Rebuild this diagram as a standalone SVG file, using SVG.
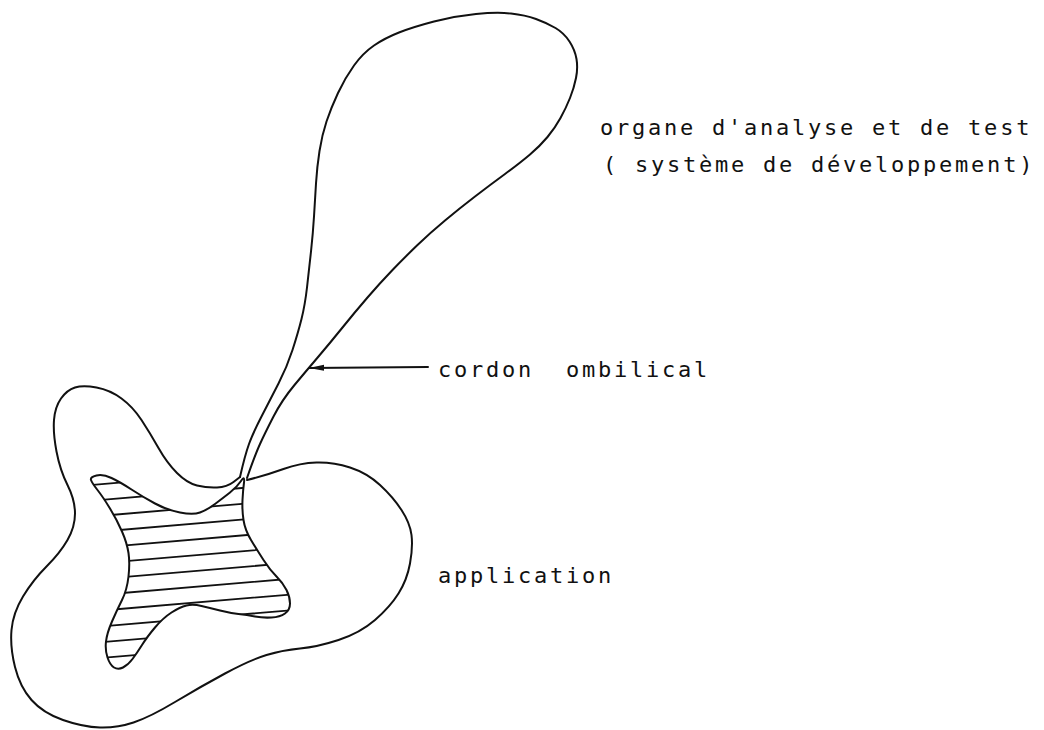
<svg xmlns="http://www.w3.org/2000/svg" width="1044" height="730" viewBox="0 0 1044 730">
<style>
.ln{fill:none;stroke:#111;stroke-width:2;stroke-linejoin:round;stroke-linecap:round}
.hatch{stroke:#111;stroke-width:1.8}
.lbl{font-family:"DejaVu Sans Mono","Liberation Mono",monospace;font-size:22px;letter-spacing:2.76px;fill:#111;white-space:pre}
</style>
<defs>
<marker id="ah" markerUnits="userSpaceOnUse" markerWidth="16" markerHeight="8" refX="15" refY="4" orient="auto">
<path d="M0,1 L15,4 L0,7 Z" fill="#111"/>
</marker>
<clipPath id="starClip">
<path id="starPath" d="M91,480 Q90,477 96.5,475.5 Q103,474 111.5,478 Q120,482 131.5,489.5 Q143,497 155,503.5 Q167,510 180,512.5 Q193,515 200,512.5 Q207,510 215,504 Q223,498 230,492.5 Q237,487 241,481 Q245,475 244,482.5 Q243,490 242.5,500 Q242,510 243.5,520 Q245,530 251,540 Q257,550 263.5,560 Q270,570 276.5,576.5 Q283,583 286.5,590 Q290,597 290,603.5 Q290,610 285,613.5 Q280,617 271.5,617.5 Q263,618 255,616.5 Q247,615 238.5,614 Q230,613 220,610.5 Q210,608 201.5,606 Q193,604 186.5,605.5 Q180,607 171.5,612.5 Q163,618 155,627.5 Q147,637 142,645 Q137,653 132.5,659 Q128,665 123,667.5 Q118,670 114,667.5 Q110,665 107.5,657.5 Q105,650 106,641.5 Q107,633 112,621.5 Q117,610 122,600 Q127,590 128.5,576.5 Q130,563 128.5,553 Q127,543 122,531.5 Q117,520 110,508.5 Q103,497 97.5,490 Q92,483 91,480 Z"/>
</clipPath>
</defs>
<rect width="1044" height="730" fill="#fff"/>

<g id="node-systeme-developpement">
<path class="ln" d="M240,477 Q245,455 249,444 Q253,433 261.5,416.5 Q270,400 278.5,383.5 Q287,367 292.5,350 Q298,333 301.5,319 Q305,305 307,287.5 Q309,270 311,251.5 Q313,233 314,216.5 Q315,200 316,183.5 Q317,167 319.5,151 Q322,135 326.5,121.5 Q331,108 338,93 Q345,78 354,65.5 Q363,53 374,45.5 Q385,38 399,32.5 Q413,27 434,21.5 Q455,16 476,14 Q497,12 511,13.5 Q525,15 536,19 Q547,23 555.5,28 Q564,33 569.5,41.5 Q575,50 576.5,59 Q578,68 576,78 Q574,88 570,98 Q566,108 560.5,118 Q555,128 547.5,137 Q540,146 530,154.5 Q520,163 505,174 Q490,185 475,196.5 Q460,208 445,220.5 Q430,233 417.5,245 Q405,257 392.5,270 Q380,283 367.5,297.5 Q355,312 342.5,327.5 Q330,343 318.5,356.5 Q307,370 294.5,385 Q282,400 273.5,416.5 Q265,433 260,444 Q255,455 247,478"/>
<text class="lbl" x="600" y="135">organe d'analyse et de test</text>
<text class="lbl" x="603" y="172">( système de développement)</text>
</g>

<g id="node-application">
<path class="ln" d="M247,480 Q267,475 283.5,469 Q300,463 316.5,462.5 Q333,462 350,467.5 Q367,473 380,485 Q393,497 401.5,510 Q410,523 411.5,535 Q413,547 410,563.5 Q407,580 398.5,593.5 Q390,607 375,620 Q360,633 338.5,640 Q317,647 300,648.5 Q283,650 266.5,655 Q250,660 225,673.5 Q200,687 175,702 Q150,717 133.5,722.5 Q117,728 100,727.5 Q83,727 63,720 Q43,713 31.5,700 Q20,687 15,667 Q10,647 11.5,630 Q13,613 23,596.5 Q33,580 46.5,566.5 Q60,553 67.5,540 Q75,527 75,513.5 Q75,500 67.5,485 Q60,470 56.5,451.5 Q53,433 54,420 Q55,407 61,398.5 Q67,390 75,387.5 Q83,385 96.5,387.5 Q110,390 121.5,398.5 Q133,407 141.5,420 Q150,433 158.5,448 Q167,463 177,473 Q187,483 197,485.5 Q207,488 217,487.5 Q227,487 233.5,482 L240,477"/>
<text class="lbl" x="438" y="583">application</text>
</g>

<g id="node-hatched-core">
<g clip-path="url(#starClip)">
<path class="hatch" d="M80,470.2 L300,451.5 M80,486 L300,467.3 M80,501.8 L300,483.1 M80,517.6 L300,498.9 M80,533.4 L300,514.7 M80,549.2 L300,530.5 M80,565 L300,546.3 M80,580.8 L300,562.1 M80,596.6 L300,577.9 M80,612.4 L300,593.7 M80,628.2 L300,609.5 M80,644 L300,625.3 M80,659.8 L300,641.1 M80,675.6 L300,656.9"/>
</g>
<use href="#starPath" class="ln"/>
</g>

<g id="connectors">
<line class="ln" x1="428" y1="367" x2="309" y2="368" marker-end="url(#ah)"/>
<text class="lbl" x="438" y="377">cordon  ombilical</text>
</g>
</svg>
